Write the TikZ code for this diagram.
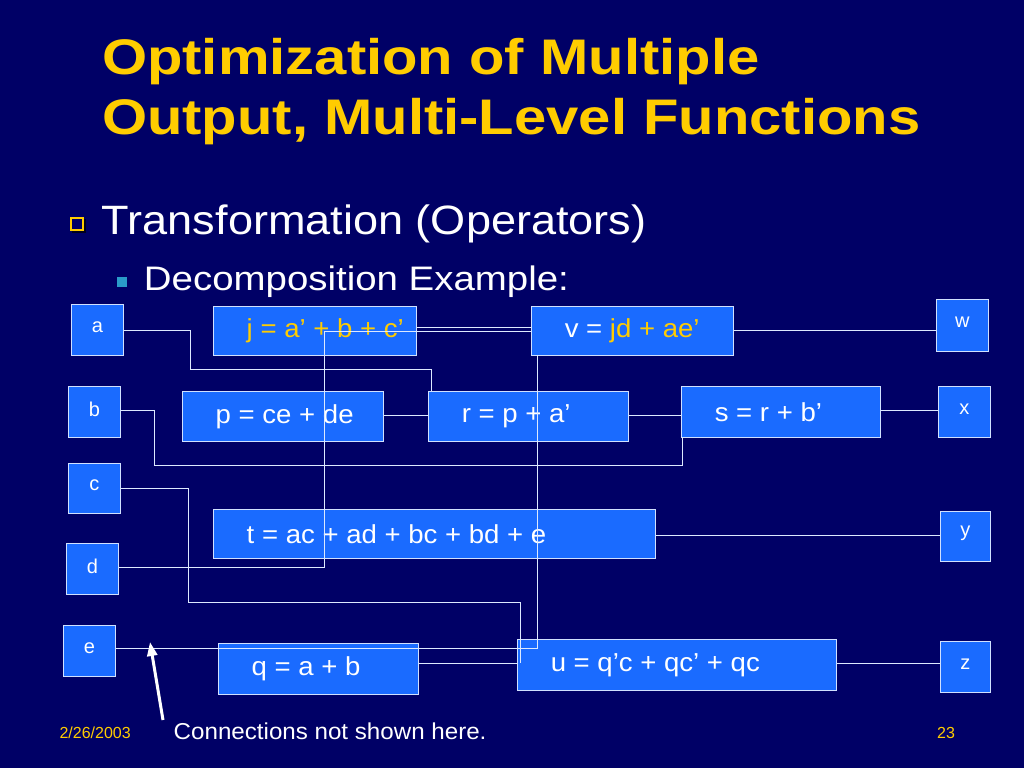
\documentclass[tikz,border=0pt]{standalone}
\usepackage{fontspec}
\setmainfont{Liberation Sans}
\usetikzlibrary{arrows.meta}
\definecolor{navy}{HTML}{000066}
\definecolor{boxblue}{HTML}{1A6BFF}
\definecolor{gold}{HTML}{FFCC00}
\tikzset{
  eq/.style={draw=white!80!boxblue, fill=boxblue, text=white,
    inner sep=0pt, anchor=north west, line width=0.8pt},
  eqtext/.style={text=white, font=\fontsize{26}{28}\selectfont, xscale=1.06, anchor=west},
  wire/.style={draw=white!85!boxblue, line width=0.8pt}
}
\newcommand{\eqbox}[6]{% name, x1, y1, x2, y2, text
  \node[eq, minimum width={#4-#2}, minimum height={#5-#3}] (#1) at (#2,#3) {};
  \node[eqtext] (#1t) at ([xshift=30]#1.west) {#6};}
\newcommand{\inbox}[6]{%
  \node[eq, minimum width={#4-#2}, minimum height={#5-#3}] (#1) at (#2,#3) {};
  \node[text=white, font=\fontsize{20}{22}\selectfont] (#1t) at ([yshift=3]#1.center) {#6};}
\begin{document}
\begin{tikzpicture}[x=1pt, y=-1pt]
\fill[navy] (0,0) rectangle (1024,768);
\useasboundingbox (0,0) rectangle (1024,768);
% title and bullets
\node[anchor=west, text=gold, font=\fontsize{50}{60}\selectfont\bfseries, align=left, xscale=1.16] (title) at (98,92)
  {Optimization of Multiple\\Output, Multi-Level Functions};
\fill[black!70!navy] (72,219) rectangle (86,233);
\node[draw=gold, fill=navy, line width=1.2pt, minimum size=12pt, inner sep=0pt] (b1) at (77,224) {};
\node[anchor=west, text=white, font=\fontsize{41}{46}\selectfont, xscale=1.1] (l1) at (98,224) {Transformation (Operators)};
\fill[cyan!60!teal] (117,277) rectangle (127,287);
\node[anchor=west, text=white, font=\fontsize{34}{38}\selectfont, xscale=1.13] (l2) at (140,282) {Decomposition Example:};
% inputs and outputs
\inbox{a}{71}{304}{123}{355}{a}
\inbox{b}{68}{386}{120}{437}{b}
\inbox{c}{68}{463}{120}{513}{c}
\inbox{d}{66}{543}{118}{594}{d}
\inbox{e}{63}{625}{115}{676}{e}
\inbox{w}{936}{299}{988}{351}{w}
\inbox{x}{938}{386}{990}{437}{x}
\inbox{y}{940}{511}{990}{561}{y}
\inbox{z}{940}{641}{990}{692}{z}
% equations
\eqbox{j}{213}{306}{416}{355}{\color{gold}j = a’ + b + c’}
\eqbox{v}{531}{306}{733}{355}{v = \color{gold}jd + ae’}
\eqbox{p}{182}{391}{383}{441}{p = ce + de}
\eqbox{r}{428}{391}{628}{441}{r = p + a’}
\eqbox{s}{681}{386}{880}{437}{s = r + b’}
\eqbox{t}{213}{509}{655}{558}{t = ac + ad + bc + bd + e}
\eqbox{q}{218}{643}{418}{694}{q = a + b}
\eqbox{u}{517}{639}{836}{690}{u = q’c + qc’ + qc}
% wires
\draw[wire] (a.east |- 0,330) -| (190,369) -| (431,391);
\draw[wire] (j.east |- 0,327) -- (v.west |- 0,327);
\draw[wire] (d.east |- 0,567) -| (324,331) -- (v.west |- 0,331);
\draw[wire] (p.east |- 0,415) -- (r.west |- 0,415);
\draw[wire] (b.east |- 0,410) -| (154,465) -| (682,437);
\draw[wire] (r.east |- 0,415) -- (s.west |- 0,415);
\draw[wire] (c.east |- 0,488) -| (188,602) -| (520,663);
\draw[wire] (q.east |- 0,663) -- (u.west |- 0,663);
\draw[wire] (e.east |- 0,648) -| (537,355);
\draw[wire] (v.east |- 0,330) -- (w.west |- 0,330);
\draw[wire] (s.east |- 0,410) -- (x.west |- 0,410);
\draw[wire] (t.east |- 0,535) -- (y.west |- 0,535);
\draw[wire] (u.east |- 0,663) -- (z.west |- 0,663);
% footer
\node[anchor=west, text=gold, font=\fontsize{16}{18}\selectfont] (date) at (56,733) {2/26/2003};
\node[anchor=west, text=white, font=\fontsize{23}{26}\selectfont, xscale=1.05] (note) at (170,731) {Connections not shown here.};
\node[text=gold, font=\fontsize{16}{18}\selectfont] (page) at (946,733) {23};
\coordinate (tip) at (150,642);
\draw[white, line width=3pt, -{Triangle[length=14pt,width=10pt]}] (163,720) -- (tip);
\end{tikzpicture}
\end{document}
